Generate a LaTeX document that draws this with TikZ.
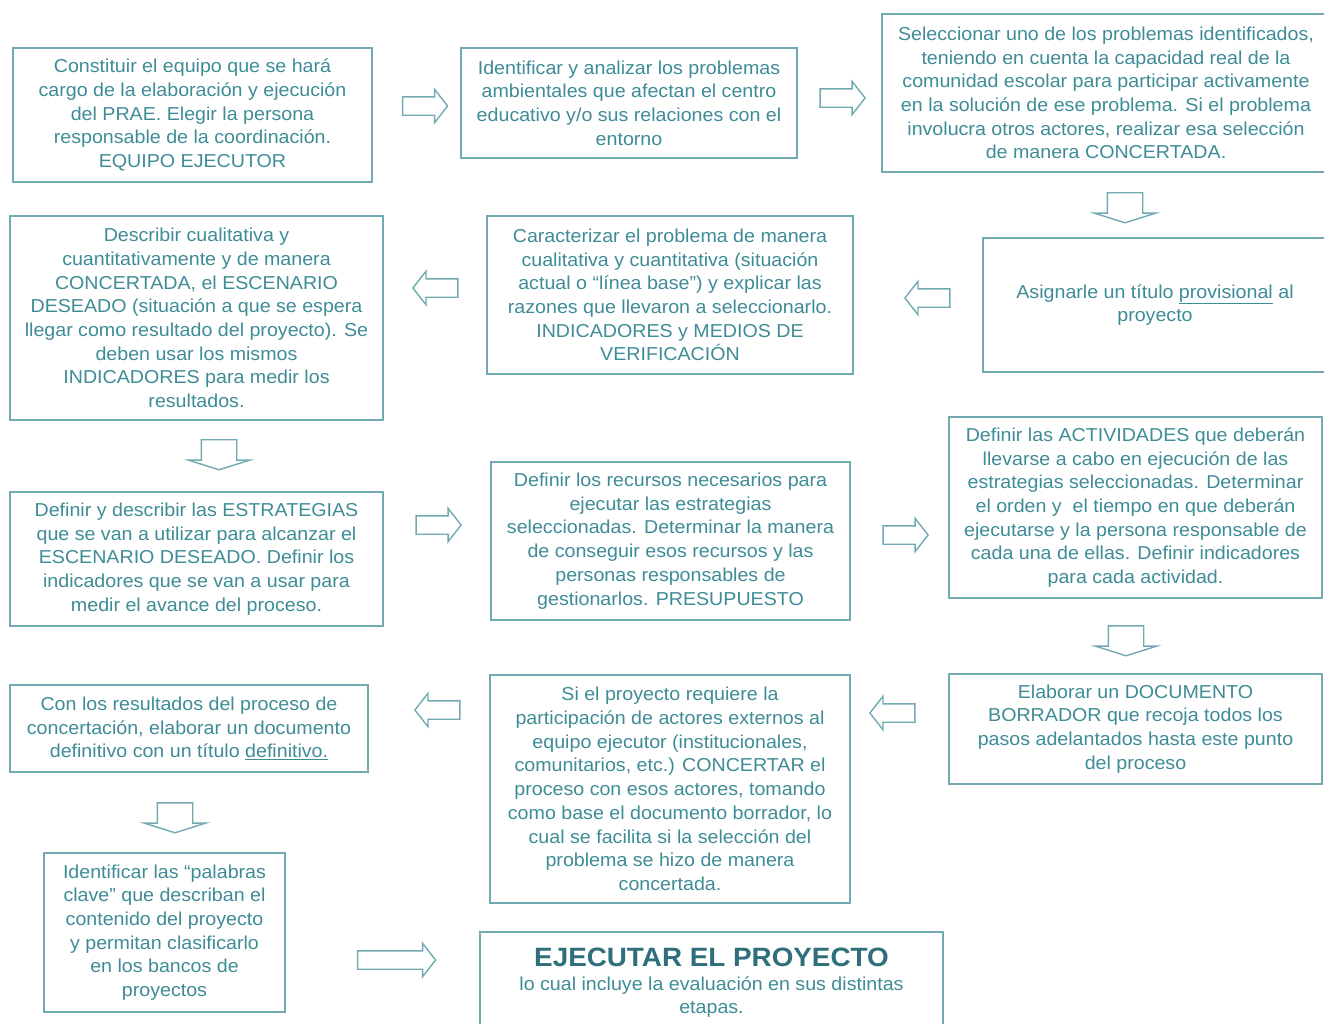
\documentclass[tikz,border=0pt]{standalone}
\usepackage{fontspec}
\setmainfont[FakeStretch=1.05]{Liberation Sans}
\usetikzlibrary{shapes.arrows}
\definecolor{tc}{HTML}{3E8C96}
\definecolor{bc}{HTML}{72AAB2}
\definecolor{hc}{HTML}{2F6F7B}
\begin{document}
\begin{tikzpicture}[x=1pt,y=-1pt,
  box/.style={draw=bc, line width=1.6pt, text=tc, align=center,
    font=\fontsize{18.7}{23.7}\selectfont, inner sep=0pt},
  harr/.style={single arrow, draw=bc, line width=1.4pt, inner xsep=0pt, inner ysep=8.5pt,
    minimum height=45pt, single arrow head extend=7.5pt,
    single arrow tip angle=104},
  varr/.style={single arrow, draw=bc, line width=1.4pt, inner xsep=0pt, inner ysep=17pt,
    minimum height=30pt, single arrow head extend=13pt,
    single arrow tip angle=145, rotate=-90}]
\useasboundingbox (0,0) rectangle (1324,1023);
\fill[white] (0,0) rectangle (1324,1023);

\node[box, minimum width=359pt, minimum height=134pt] (b1) at (192.5,115)
 {Constituir el equipo que se hará\\cargo de la elaboración y ejecución\\del PRAE. Elegir la persona\\responsable de la coordinación.\\EQUIPO EJECUTOR};
\node[box, minimum width=336pt, minimum height=110pt] (b2) at (629,103)
 {Identificar y analizar los problemas\\ambientales que afectan el centro\\educativo y/o sus relaciones con el\\entorno};
\node[box, minimum width=448pt, minimum height=158pt] (b3) at (1106,93)
 {Seleccionar uno de los problemas identificados,\\teniendo en cuenta la capacidad real de la\\comunidad escolar para participar activamente\\en la solución de ese problema. Si el problema\\involucra otros actores, realizar esa selección\\de manera CONCERTADA.};
\node[box, minimum width=344pt, minimum height=134pt] (b4) at (1155,305)
 {Asignarle un título \underline{provisional} al\\proyecto};
\node[box, minimum width=366pt, minimum height=158pt] (b5) at (670,295)
 {Caracterizar el problema de manera\\cualitativa y cuantitativa (situación\\actual o “línea base”) y explicar las\\razones que llevaron a seleccionarlo.\\INDICADORES y MEDIOS DE\\VERIFICACIÓN};
\node[box, minimum width=373pt, minimum height=204pt] (b6) at (196.5,318)
 {Describir cualitativa y\\cuantitativamente y de manera\\CONCERTADA, el ESCENARIO\\DESEADO (situación a que se espera\\llegar como resultado del proyecto). Se\\deben usar los mismos\\INDICADORES para medir los\\resultados.};
\node[box, minimum width=373pt, minimum height=134pt] (b7) at (196.5,559)
 {Definir y describir las ESTRATEGIAS\\que se van a utilizar para alcanzar el\\ESCENARIO DESEADO. Definir los\\indicadores que se van a usar para\\medir el avance del proceso.};
\node[box, minimum width=359pt, minimum height=158pt] (b8) at (670.5,541)
 {Definir los recursos necesarios para\\ejecutar las estrategias\\seleccionadas. Determinar la manera\\de conseguir esos recursos y las\\personas responsables de\\gestionarlos. PRESUPUESTO};
\node[box, minimum width=373pt, minimum height=181pt] (b9) at (1135.5,507.5)
 {Definir las ACTIVIDADES que deberán\\llevarse a cabo en ejecución de las\\estrategias seleccionadas. Determinar\\el orden y ~el tiempo en que deberán\\ejecutarse y la persona responsable de\\cada una de ellas. Definir indicadores\\para cada actividad.};
\node[box, minimum width=373pt, minimum height=110pt] (b10) at (1135.5,729)
 {Elaborar un DOCUMENTO\\BORRADOR que recoja todos los\\pasos adelantados hasta este punto\\del proceso};
\node[box, minimum width=360pt, minimum height=228pt] (b11) at (670,789)
 {Si el proyecto requiere la\\participación de actores externos al\\equipo ejecutor (institucionales,\\comunitarios, etc.) CONCERTAR el\\proceso con esos actores, tomando\\como base el documento borrador, lo\\cual se facilita si la selección del\\problema se hizo de manera\\concertada.};
\node[box, minimum width=358pt, minimum height=87pt] (b12) at (189,728.5)
 {Con los resultados del proceso de\\concertación, elaborar un documento\\definitivo con un título \underline{definitivo.}};
\node[box, minimum width=241pt, minimum height=159pt] (b13) at (164.5,932.5)
 {Identificar las “palabras\\clave” que describan el\\contenido del proyecto\\y permitan clasificarlo\\en los bancos de\\proyectos};
\node[box, minimum width=463pt, minimum height=100pt] (b14) at (711.5,982) {};
\node[text=hc, font=\fontsize{26.5}{30}\selectfont\bfseries, inner sep=0pt] (b14t) at (711.5,957) {EJECUTAR EL PROYECTO};
\node[text=tc, font=\fontsize{18.7}{23.7}\selectfont, align=center, inner sep=0pt] (b14s) at (711.5,997)
 {lo cual incluye la evaluación en sus distintas\\etapas.};

\node[harr] (a1) at (421.5,106) {};
\node[harr] (a2) at (839,98) {};
\node[varr] (a3) at (1125,205) {};
\node[harr, shape border rotate=180] (a4) at (931,298) {};
\node[harr, shape border rotate=180] (a5) at (439,288) {};
\node[varr] (a6) at (219,452) {};
\node[harr] (a7) at (435,525) {};
\node[harr] (a8) at (902,535) {};
\node[varr] (a9) at (1126,638) {};
\node[harr, shape border rotate=180] (a10) at (896,713) {};
\node[harr, shape border rotate=180] (a11) at (441,710) {};
\node[varr] (a12) at (175,815) {};
\node[harr, minimum height=78pt] (a13) at (393,960) {};
\end{tikzpicture}
\end{document}
